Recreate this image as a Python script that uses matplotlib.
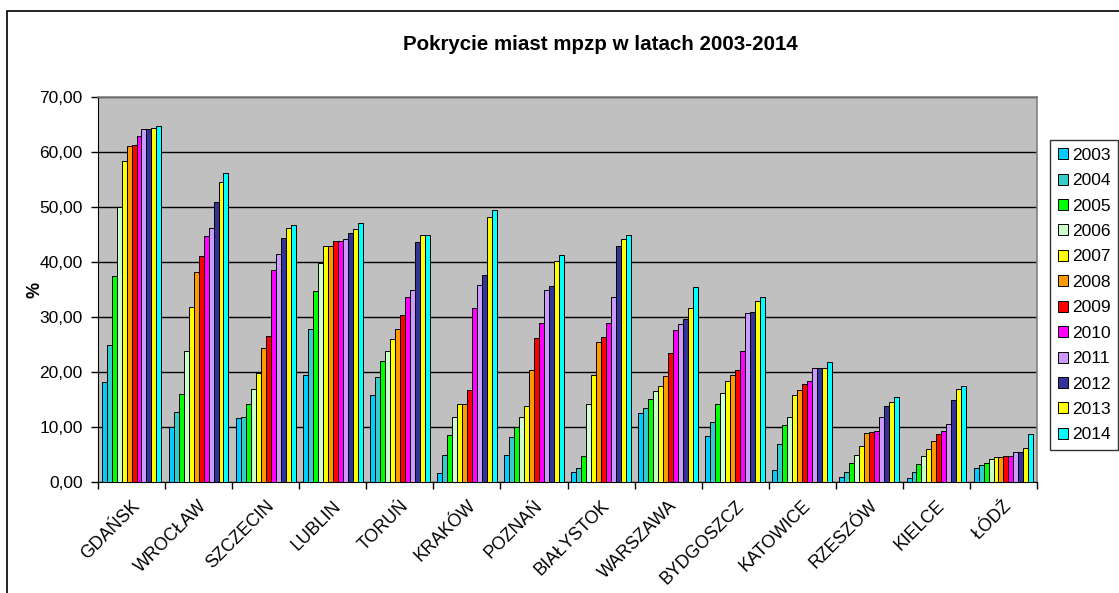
import matplotlib
matplotlib.use("Agg")
import matplotlib.pyplot as plt
from matplotlib.patches import Rectangle
import numpy as np

plt.rcParams['font.family'] = ['Liberation Sans', 'DejaVu Sans']

cities = ["GDAŃSK", "WROCŁAW", "SZCZECIN", "LUBLIN", "TORUŃ", "KRAKÓW", "POZNAŃ",
          "BIAŁYSTOK", "WARSZAWA", "BYDGOSZCZ", "KATOWICE", "RZESZÓW", "KIELCE", "ŁÓDŹ"]
years = ["2003", "2004", "2005", "2006", "2007", "2008", "2009", "2010", "2011", "2012", "2013", "2014"]

# values per city, one entry per year 2003..2014
gdansk    = [18.1, 25.0, 37.4, 50.0, 58.4, 61.1, 61.3, 62.9, 64.2, 64.2, 64.4, 64.8]
wroclaw   = [10.0, 12.8, 16.0, 23.9, 31.8, 38.2, 41.1, 44.8, 46.1, 50.9, 54.6, 56.1]
szczecin  = [11.7, 11.9, 14.1, 16.9, 19.8, 24.3, 26.6, 38.6, 41.5, 44.4, 46.1, 46.7]
lublin    = [19.4, 27.9, 34.8, 39.9, 43.0, 43.0, 43.9, 43.9, 44.1, 45.3, 46.0, 47.1]
torun     = [15.8, 19.1, 22.0, 23.9, 26.0, 27.9, 30.4, 33.6, 34.9, 43.6, 44.9, 44.9]
krakow    = [1.6, 5.0, 8.5, 11.9, 14.2, 14.2, 16.8, 31.6, 35.9, 37.6, 48.2, 49.5]
poznan    = [5.0, 8.1, 10.0, 11.9, 13.9, 20.4, 26.1, 28.9, 34.9, 35.7, 40.1, 41.2]
bialystok = [1.75, 2.5, 4.8, 14.1, 19.5, 25.5, 26.4, 28.9, 33.7, 42.9, 44.1, 44.9]
warszawa  = [12.5, 13.5, 15.1, 16.6, 17.4, 19.3, 23.4, 27.6, 28.7, 29.7, 31.6, 35.5]
bydgoszcz = [8.3, 11.0, 14.1, 16.1, 18.3, 19.5, 20.3, 23.9, 30.7, 30.9, 33.0, 33.6]
katowice  = [2.2, 7.0, 10.4, 11.9, 15.8, 16.8, 17.8, 18.3, 20.7, 20.7, 20.8, 21.8]
rzeszow   = [1.0, 1.9, 3.5, 5.0, 6.5, 8.9, 9.1, 9.3, 11.8, 13.9, 14.5, 15.5]
kielce    = [0.8, 1.9, 3.3, 4.7, 6.0, 7.4, 8.7, 9.3, 10.5, 15.0, 17.0, 17.5]
lodz      = [2.5, 3.1, 3.5, 4.1, 4.5, 4.5, 4.7, 4.7, 5.4, 5.4, 6.2, 8.7]

table = np.array([gdansk, wroclaw, szczecin, lublin, torun, krakow, poznan,
                  bialystok, warszawa, bydgoszcz, katowice, rzeszow, kielce, lodz])

colors = ["#00CCFF", "#33CCCC", "#00FF00", "#CCFFCC", "#FFFF00", "#FF9900",
          "#FF0000", "#FF00FF", "#CC99FF", "#333399", "#FFFF00", "#00FFFF"]

W, H = 1119, 593
fig = plt.figure(figsize=(W / 100, H / 100), dpi=100)
fig.patch.set_facecolor("white")

# chart area border
fig.patches.append(Rectangle((7 / W, -0.1), 1.2, 1 - 11 / H + 0.1, transform=fig.transFigure,
                             fill=False, edgecolor="black", linewidth=1.2))

left, right, top, bottom = 98, 1037, 97, 482
ax = fig.add_axes([left / W, 1 - bottom / H, (right - left) / W, (bottom - top) / H])
ax.set_facecolor("#C0C0C0")

x = np.arange(len(cities))
n = len(years)
group = 0.89
bw = group / n
for i, yr in enumerate(years):
    ax.bar(x - group / 2 + bw * (i + 0.5), table[:, i], width=bw, color=colors[i],
           edgecolor="black", linewidth=0.7, label=yr, zorder=3)

ax.set_xlim(-0.5, len(cities) - 0.5)
ax.set_ylim(0, 70)
ax.set_yticks(np.arange(0, 71, 10))
ax.set_yticklabels([f"{v:.2f}".replace(".", ",") for v in np.arange(0, 71, 10)], fontsize=12.5)
ax.yaxis.grid(True, color="black", linewidth=1, zorder=1)
ax.set_axisbelow(True)

ax.set_xticks(x)
ax.set_xticklabels(cities, rotation=45, ha="right", va="top", rotation_mode="anchor", fontsize=12.8)
ax.tick_params(axis="x", which="major", length=0, pad=11)
ax.set_xticks(np.arange(-0.5, len(cities), 1), minor=True)
ax.tick_params(axis="x", which="minor", length=5, width=1, color="black")
ax.tick_params(axis="y", length=5, width=1, color="black", pad=6)

for s in ["top", "right"]:
    ax.spines[s].set_color("#808080")
    ax.spines[s].set_linewidth(1.2)
ax.spines["left"].set_color("black")
ax.spines["bottom"].set_color("black")

ax.set_ylabel("%", fontsize=13, fontweight="bold", labelpad=-3)

fig.text(0.5 * (403 + 797) / W, 1 - 44 / H, "Pokrycie miast mpzp w latach 2003-2014",
         ha="center", va="center", fontsize=14.8, fontweight="bold")

leg = fig.legend(loc="upper left", bbox_to_anchor=(1050 / W, 1 - 140 / H), fontsize=12.5,
                 frameon=True, fancybox=False, edgecolor="black", handlelength=0.6,
                 handleheight=0.6, handletextpad=0.2, labelspacing=0.6, borderpad=0.45,
                 borderaxespad=0)
leg.get_frame().set_linewidth(1)

fig.savefig("out.png", dpi=100)
